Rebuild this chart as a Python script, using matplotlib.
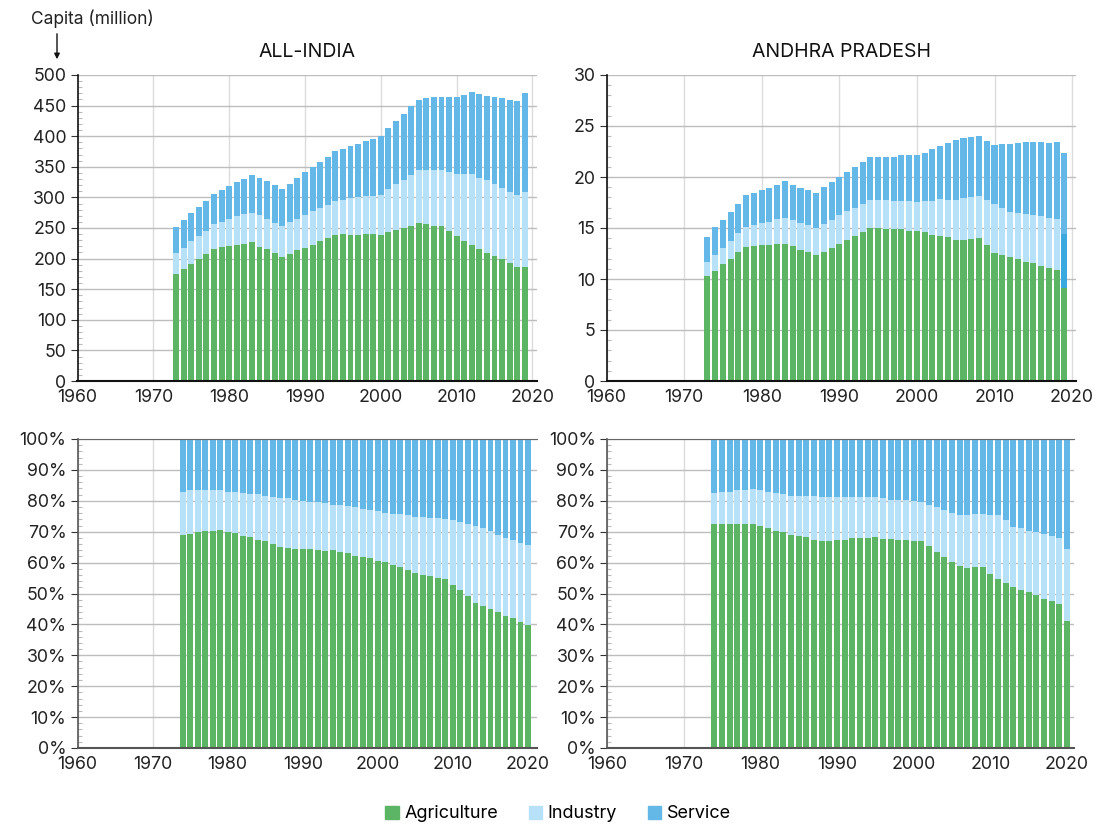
import matplotlib
matplotlib.use("Agg")
import matplotlib.pyplot as plt
from matplotlib.ticker import MultipleLocator, FuncFormatter
from matplotlib.patches import Patch

plt.rcParams['font.family'] = ['Inter', 'DejaVu Sans']

# ---------------- data ----------------
years_abs = list(range(1973, 2020))
years_share = list(range(1974, 2021))

# All-India, million persons
india_agri = [175, 183, 191.5, 200, 208, 216, 219, 221, 222.5, 224, 227, 219, 216, 209.5, 203,
              208, 214, 217.6, 222.5, 229, 234, 239, 240, 239, 239, 240, 240, 239, 244, 247,
              250, 253.5, 258, 257, 253.5, 253.5, 245, 237, 229, 222.5, 216, 209.5, 204.5, 200,
              193, 186.6, 186.6]
india_ind = [34, 35, 37.5, 37, 37, 41, 41, 44, 47.5, 49, 48, 52.5, 49, 48.5, 50.5,
             52, 51, 53.9, 55.5, 54, 54, 55, 56, 60, 62, 62.5, 62.5, 65, 70, 75,
             78.6, 83.5, 87, 88, 91.5, 91.5, 96.6, 101, 109, 115.5, 116, 119.1, 117.5, 115.5,
             116, 117.4, 122.4]
india_serv = [43, 45, 46, 47.5, 49, 49, 52, 54, 55, 57, 62, 60.5, 62, 62, 60.5,
              62, 67, 70.1, 72, 75, 78, 82, 83, 84.4, 86, 89.5, 93, 96, 99, 103,
              107.4, 112, 114, 117, 119, 119, 122.4, 126, 129, 134, 137, 137.1, 142, 146.5,
              150, 153.5, 161.6]

# Andhra Pradesh, million persons
ap_agri = [10.3, 10.8, 11.5, 12.0, 12.6, 13.15, 13.25, 13.35, 13.35, 13.45, 13.45, 13.25, 12.85,
           12.6, 12.4, 12.65, 13.05, 13.45, 13.85, 14.2, 14.6, 15.0, 15.0, 14.9, 14.9, 14.9,
           14.7, 14.7, 14.6, 14.3, 14.2, 14.1, 13.85, 13.85, 13.95, 14.05, 13.35, 12.55, 12.35,
           12.2, 12.0, 11.7, 11.6, 11.3, 11.1, 10.9, 9.15]
ap_ind = [1.4, 1.6, 1.55, 1.7, 1.9, 1.95, 2.05, 2.15, 2.25, 2.45, 2.55, 2.55, 2.65,
          2.7, 2.6, 2.75, 2.75, 2.85, 2.85, 2.8, 2.8, 2.75, 2.75, 2.85, 2.75, 2.75,
          2.95, 2.85, 3.05, 3.35, 3.65, 3.65, 3.9, 4.1, 4.1, 4.1, 4.4, 4.8, 4.6,
          4.4, 4.5, 4.7, 4.7, 4.9, 4.9, 5.0, 5.25]
ap_serv = [2.4, 2.7, 2.75, 2.9, 2.9, 3.15, 3.15, 3.2, 3.3, 3.3, 3.6, 3.4, 3.4,
           3.4, 3.45, 3.6, 3.7, 3.7, 3.8, 4.0, 4.1, 4.25, 4.25, 4.25, 4.35, 4.55,
           4.55, 4.65, 4.7, 5.1, 5.2, 5.6, 5.85, 5.85, 5.85, 5.85, 5.8, 5.8, 6.3,
           6.65, 6.85, 7.05, 7.15, 7.25, 7.35, 7.55, 7.95]

# Shares (%)
india_agri_pct = [69.0, 69.3, 69.9, 70.3, 70.3, 70.6, 69.9, 69.6, 68.6, 68.3, 67.3, 67.0, 66.1,
                  65.1, 64.8, 64.4, 64.4, 64.4, 64.1, 63.8, 64.1, 63.5, 63.1, 62.2, 61.9, 61.5,
                  60.6, 60.2, 59.3, 58.6, 57.7, 56.7, 56.0, 55.7, 55.1, 54.7, 52.8, 51.2, 49.2,
                  47.0, 46.0, 45.0, 44.1, 42.8, 42.1, 40.8, 39.8]
india_ind_pct = [13.9, 14.2, 13.6, 13.2, 13.2, 12.9, 13.0, 13.3, 13.9, 13.9, 14.9, 14.6, 15.2,
                 15.8, 16.1, 15.9, 15.6, 15.2, 15.5, 15.5, 14.6, 15.2, 15.2, 15.8, 15.5, 15.5,
                 16.1, 15.9, 16.5, 17.2, 17.7, 18.1, 18.8, 18.8, 19.4, 19.4, 21.0, 22.0, 23.3,
                 24.9, 25.2, 25.3, 24.9, 25.2, 25.2, 25.6, 25.9]
ap_agri_pct = [72.5, 72.5, 72.5, 72.5, 72.5, 72.5, 71.9, 71.2, 70.3, 69.9, 69.0, 68.6, 68.3,
               67.3, 67.0, 67.0, 67.3, 67.3, 68.0, 68.0, 68.0, 68.3, 67.7, 67.7, 67.3, 67.3,
               67.0, 67.0, 65.4, 63.5, 61.9, 60.2, 58.9, 58.3, 58.6, 58.6, 56.4, 54.7, 53.4,
               52.2, 51.2, 50.5, 49.6, 48.3, 47.6, 46.7, 41.2]
ap_ind_pct = [10.0, 10.4, 10.4, 11.0, 11.0, 11.3, 11.6, 11.7, 12.2, 12.3, 12.6, 13.0, 13.3,
              14.3, 14.3, 14.3, 14.0, 14.0, 13.3, 13.3, 13.3, 13.0, 13.2, 12.6, 13.0, 13.0,
              13.0, 12.6, 13.3, 14.5, 15.1, 15.9, 16.5, 17.1, 17.2, 17.2, 19.0, 20.7, 20.4,
              19.4, 20.0, 19.8, 20.3, 21.0, 21.0, 21.3, 23.2]

GREEN = '#5cb565'
LIGHT = '#b7e1f8'
SERV = '#63b8e8'
HILITE = '#3aa9e0'

W, H = 1108, 825
fig = plt.figure(figsize=(W / 100, H / 100), dpi=100)


def ax_at(x0, x1, y0, y1):
    return fig.add_axes([x0 / W, 1 - y1 / H, (x1 - x0) / W, (y1 - y0) / H])


def style(ax, spine_col, top_col):
    ax.set_axisbelow(True)
    ax.xaxis.set_major_locator(MultipleLocator(10))
    ax.grid(axis='x', color='#dcdcdc', lw=1)
    ax.grid(axis='y', color='#bdbdbd', lw=1)
    ax.spines['right'].set_visible(False)
    ax.spines['top'].set_visible(top_col is not None)
    if top_col is not None:
        ax.spines['top'].set_color(top_col)
    ax.spines['left'].set_color(spine_col)
    ax.spines['bottom'].set_color(spine_col)
    ax.spines['left'].set_linewidth(1.2)
    ax.spines['bottom'].set_linewidth(1.5)
    ax.tick_params(axis='both', labelsize=12.8, colors='#222222', length=4, width=0.8)
    ax.tick_params(axis='x', length=0, pad=6)
    ax.tick_params(axis='y', which='major', length=5, color='#333333', pad=3)
    ax.tick_params(axis='y', which='minor', direction='in', length=3, color='#bbbbbb', width=0.8)


def stacked(ax, years, a, b, c, bar_colors_mid=None):
    ax.bar(years, a, width=0.78, color=GREEN, linewidth=0)
    ax.bar(years, b, bottom=a, width=0.78, color=bar_colors_mid or LIGHT, linewidth=0)
    ab = [x + y for x, y in zip(a, b)]
    ax.bar(years, c, bottom=ab, width=0.78, color=SERV, linewidth=0)


# Top-left: All-India absolute
ax1 = ax_at(77.5, 537, 75, 381)
stacked(ax1, years_abs, india_agri, india_ind, india_serv)
ax1.set_xlim(1960, 2020.6)
ax1.set_ylim(0, 500)
ax1.yaxis.set_major_locator(MultipleLocator(50))
ax1.yaxis.set_minor_locator(MultipleLocator(10))
style(ax1, '#111111', None)
ax1.set_title('ALL-INDIA', fontsize=14, pad=13, color='#111111')

# Top-right: Andhra Pradesh absolute
ax2 = ax_at(606.5, 1076, 75, 381)
mid_cols = [LIGHT] * (len(years_abs) - 1) + [HILITE]
stacked(ax2, years_abs, ap_agri, ap_ind, ap_serv, bar_colors_mid=mid_cols)
ax2.set_xlim(1960, 2020.5)
ax2.set_ylim(0, 30)
ax2.yaxis.set_major_locator(MultipleLocator(5))
ax2.yaxis.set_minor_locator(MultipleLocator(1))
style(ax2, '#111111', None)
ax2.set_title('ANDHRA PRADESH', fontsize=14, pad=13, color='#111111')

pct_fmt = FuncFormatter(lambda v, p: f'{v:.0f}%')

# Bottom-left: All-India shares
ax3 = ax_at(77.5, 537, 439, 748)
serv3 = [100 - a - b for a, b in zip(india_agri_pct, india_ind_pct)]
stacked(ax3, years_share, india_agri_pct, india_ind_pct, serv3)
ax3.set_xlim(1960, 2021.2)
ax3.set_ylim(0, 100)
ax3.yaxis.set_major_locator(MultipleLocator(10))
ax3.yaxis.set_minor_locator(MultipleLocator(2))
ax3.yaxis.set_major_formatter(pct_fmt)
style(ax3, '#555555', '#666666')

# Bottom-right: Andhra Pradesh shares
ax4 = ax_at(607, 1074, 439, 748)
serv4 = [100 - a - b for a, b in zip(ap_agri_pct, ap_ind_pct)]
stacked(ax4, years_share, ap_agri_pct, ap_ind_pct, serv4)
ax4.set_xlim(1960, 2020.9)
ax4.set_ylim(0, 100)
ax4.yaxis.set_major_locator(MultipleLocator(10))
ax4.yaxis.set_minor_locator(MultipleLocator(2))
ax4.yaxis.set_major_formatter(pct_fmt)
style(ax4, '#555555', '#666666')

# Unit label with arrow
fig.text(31 / W, 1 - 19 / H, 'Capita (million)', fontsize=12.5, ha='left', va='center', color='#222222')
fig.add_artist(matplotlib.patches.FancyArrowPatch((57 / W, 1 - 31 / H), (57 / W, 1 - 62 / H),
                                                  transform=fig.transFigure, arrowstyle='-|>',
                                                  mutation_scale=8, color='#111111', lw=1))

# Legend
handles = [Patch(color=GREEN, label='Agriculture'), Patch(color=LIGHT, label='Industry'),
           Patch(color=SERV, label='Service')]
fig.legend(handles=handles, loc='center', bbox_to_anchor=(558 / W, 1 - 814 / H), ncol=3,
           frameon=False, fontsize=13, handlelength=0.75, handleheight=0.75, handletextpad=0.3,
           columnspacing=1.7)

fig.savefig('out.png', dpi=100)
